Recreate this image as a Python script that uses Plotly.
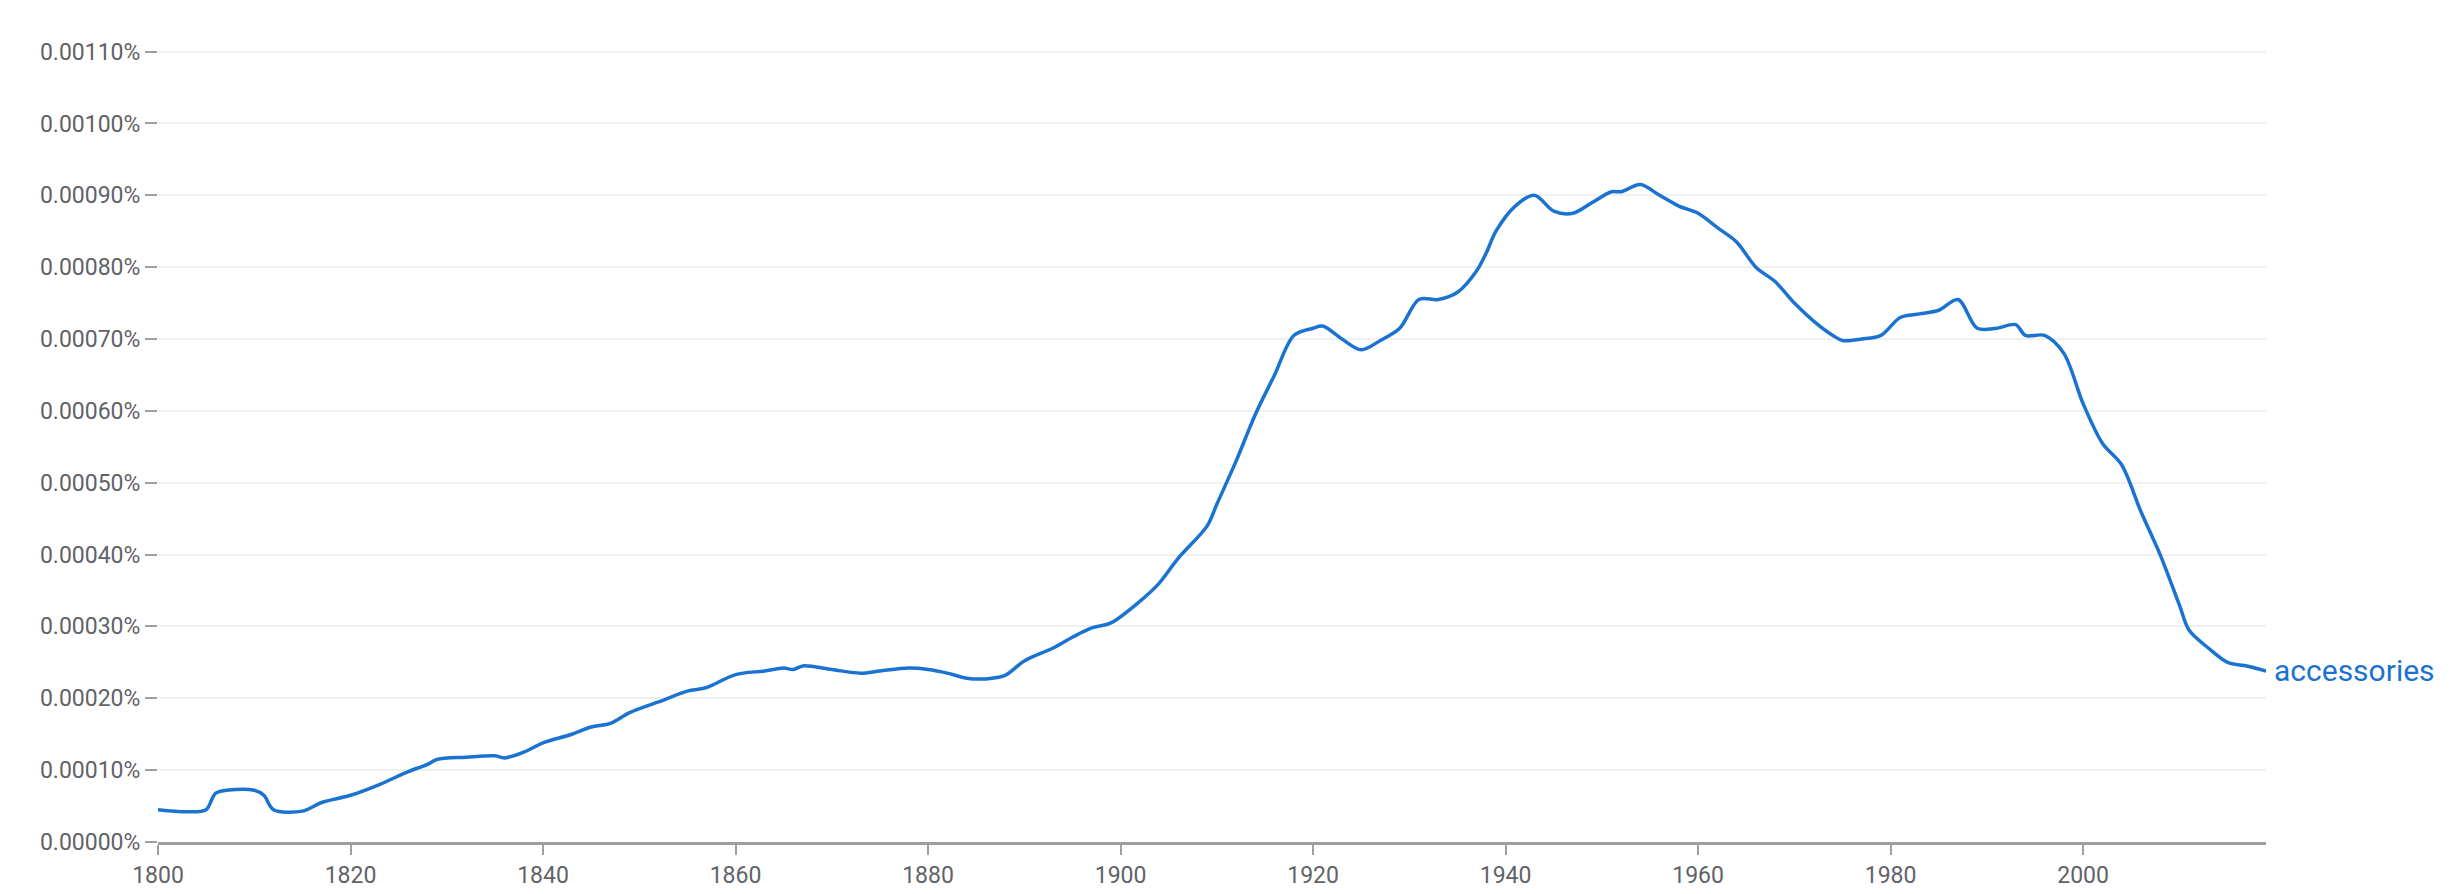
import plotly.graph_objects as go

years = [1800,1803,1805,1806,1808,1810,1811,1812,1815,1817,1820,1823,1826,1828,1829,1832,1835,1836,1838,1840,1843,1845,1847,1849,1852,1855,1857,1860,1863,1865,1866,1867,1870,1873,1875,1878,1880,1882,1884,1886,1888,1890,1893,1895,1897,1899,1902,1904,1906,1909,1910,1912,1914,1916,1918,1920,1921,1923,1925,1927,1929,1931,1933,1935,1937,1938,1939,1941,1943,1945,1947,1949,1951,1952,1954,1956,1958,1960,1962,1964,1966,1968,1970,1972,1974,1975,1977,1979,1981,1983,1985,1987,1989,1991,1993,1994,1996,1998,2000,2002,2004,2006,2008,2010,2011,2013,2015,2017,2019]
vals_e4 = [0.45,0.42,0.45,0.68,0.73,0.72,0.65,0.45,0.43,0.55,0.65,0.8,0.98,1.08,1.15,1.18,1.2,1.17,1.25,1.38,1.5,1.6,1.65,1.8,1.95,2.1,2.15,2.33,2.38,2.42,2.4,2.45,2.4,2.35,2.38,2.42,2.4,2.35,2.28,2.27,2.32,2.52,2.7,2.85,2.98,3.05,3.35,3.6,3.95,4.4,4.7,5.3,5.95,6.5,7.05,7.15,7.18,7.0,6.85,6.98,7.15,7.55,7.55,7.65,7.95,8.2,8.5,8.85,9.0,8.78,8.75,8.9,9.05,9.05,9.15,9.0,8.85,8.75,8.55,8.35,8.0,7.8,7.5,7.25,7.05,6.98,7.0,7.05,7.3,7.35,7.4,7.55,7.15,7.15,7.2,7.05,7.05,6.8,6.1,5.55,5.25,4.6,4.0,3.3,2.95,2.7,2.5,2.45,2.38]
values = [v / 10000 for v in vals_e4]  # in percent
series_name = "accessories"
y_ticks = [i / 10000 for i in range(0, 12)]

blue = "#1a73d0"
fig = go.Figure(go.Scatter(x=years, y=values, mode="lines",
                           line=dict(color=blue, width=3.5, shape="spline", smoothing=0.9),
                           hoverinfo="skip"))
fig.add_annotation(x=years[-1], y=values[-1], text=series_name, showarrow=False,
                   xanchor="left", xshift=6, font=dict(color=blue, size=30, family="Roboto"))
fig.update_layout(
    width=2450, height=894, paper_bgcolor="white", plot_bgcolor="white",
    margin=dict(l=150, r=192, t=40, b=60), showlegend=False,
    font=dict(family="Roboto", size=23, color="#5f6368"),
)
fig.update_xaxes(range=[1800, 2019], tickvals=list(range(1800, 2020, 20)), ticks="outside",
                 ticklen=10, tickwidth=2, tickcolor="#9e9e9e", showline=True, linecolor="#9e9e9e",
                 linewidth=3, showgrid=False, zeroline=False)
fig.update_yaxes(range=[0, 0.001105], tickvals=y_ticks, ticktext=[f"{t:.5f}%" for t in y_ticks],
                 ticks="outside", ticklen=12, tickwidth=2, tickcolor="#9e9e9e",
                 gridcolor="#f0f0f0", gridwidth=2, zeroline=False, showline=False)
fig.write_html("out.html")
